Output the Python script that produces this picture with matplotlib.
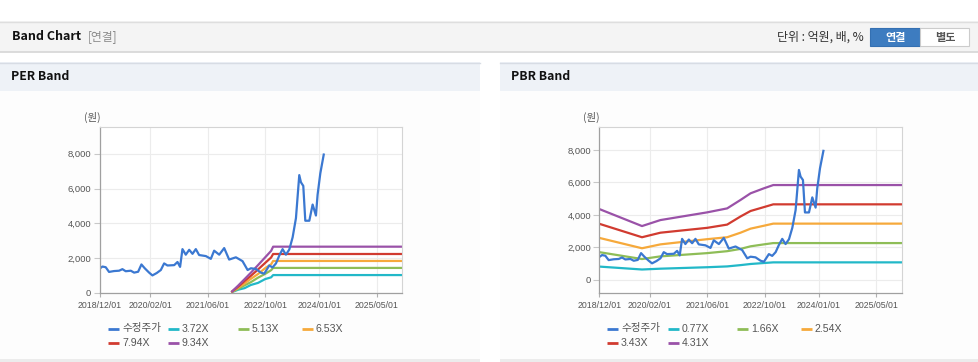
import matplotlib.pyplot as plt
import matplotlib.ticker as ticker
from matplotlib.patches import Rectangle
import pandas as pd

W, H = 979, 362

# adjusted close (수정주가), shared by both charts
price_dates = [
    '2018-12-01', '2018-12-24', '2019-01-21', '2019-02-18', '2019-04-01', '2019-05-14',
    '2019-06-11', '2019-07-09', '2019-08-21', '2019-09-18', '2019-10-22', '2019-11-19',
    '2019-12-17', '2020-01-23', '2020-02-20', '2020-03-28', '2020-05-01', '2020-05-29',
    '2020-06-26', '2020-08-22', '2020-09-19', '2020-10-11', '2020-10-31', '2020-11-28',
    '2020-12-27', '2021-01-24', '2021-02-21', '2021-03-21', '2021-05-17', '2021-06-28',
    '2021-07-26', '2021-09-07', '2021-10-19', '2021-11-30', '2022-01-26', '2022-03-23',
    '2022-05-05', '2022-06-02', '2022-07-14', '2022-08-26', '2022-09-23', '2022-11-04',
    '2022-12-02', '2022-12-31', '2023-01-28', '2023-02-25', '2023-03-25', '2023-04-23',
    '2023-05-21', '2023-06-18', '2023-07-16', '2023-07-30', '2023-08-19', '2023-09-05',
    '2023-10-09', '2023-11-06', '2023-12-04', '2023-12-18', '2024-01-10', '2024-02-08',
]
price_vals = [
    1400, 1520, 1480, 1210, 1260, 1280,
    1370, 1250, 1280, 1170, 1220, 1640,
    1420, 1170, 1010, 1150, 1320, 1700,
    1580, 1600, 1780, 1500, 2520, 2200,
    2480, 2250, 2520, 2180, 2120, 1960,
    2430, 2200, 2580, 1920, 2050, 1830,
    1320, 1420, 1380, 1170, 1110, 1580,
    1470, 1700, 2150, 2520, 2200, 2500,
    3200, 4300, 6770, 6360, 6150, 4150,
    4150, 5080, 4450, 5640, 6870, 7950,
]

# PER band (EPS x multiple)
per_band_dates = ['2021-12-26', '2022-02-15', '2022-04-10', '2022-06-01', '2022-08-01',
                  '2022-10-01', '2022-11-20', '2022-12-07', '2025-12-01']
per_labels = ['3.72X', '5.13X', '6.53X', '7.94X', '9.34X']
per_372 = [60, 190, 280, 460, 580, 800, 900, 1030, 1030]
per_513 = [70, 240, 440, 620, 880, 1100, 1310, 1440, 1440]
per_653 = [80, 310, 550, 810, 1090, 1430, 1650, 1840, 1840]
per_794 = [90, 370, 690, 980, 1350, 1730, 2040, 2240, 2240]
per_934 = [100, 430, 800, 1160, 1600, 2050, 2420, 2660, 2660]

# PBR band (BPS x multiple)
pbr_band_dates = ['2018-12-01', '2019-11-27', '2020-05-01', '2021-05-31', '2021-11-16',
                  '2022-03-09', '2022-06-02', '2022-09-23', '2022-12-11', '2025-12-01']
pbr_labels = ['0.77X', '1.66X', '2.54X', '3.43X', '4.31X']
pbr_077 = [810, 630, 680, 770, 820, 900, 970, 1030, 1070, 1070]
pbr_166 = [1700, 1275, 1440, 1640, 1760, 1900, 2060, 2180, 2260, 2260]
pbr_254 = [2580, 1940, 2180, 2500, 2620, 2900, 3150, 3330, 3460, 3460]
pbr_343 = [3450, 2620, 2900, 3200, 3400, 3900, 4240, 4480, 4650, 4650]
pbr_431 = [4360, 3310, 3680, 4155, 4400, 4920, 5330, 5640, 5840, 5840]

xtick_dates = ['2018-12-01', '2020-02-01', '2021-06-01', '2022-10-01', '2024-01-01', '2025-05-01']
xtick_labels = ['2018/12/01', '2020/02/01', '2021/06/01', '2022/10/01', '2024/01/01', '2025/05/01']
ytick_vals = [0, 2000, 4000, 6000, 8000]

price_color = '#3b78d1'
band_colors = ['#22b8c8', '#8ebd57', '#f6a93b', '#d13b30', '#9a52a8']
KR = ['Noto Sans CJK KR', 'DejaVu Sans']
NUM = ['Liberation Sans', 'DejaVu Sans']


def rect(x0, y0, x1, y1):
    return [x0 / W, 1 - y1 / H, (x1 - x0) / W, (y1 - y0) / H]


fig = plt.figure(figsize=(W / 100, H / 100), dpi=100)
fig.patch.set_facecolor('white')

# background layer in pixel coordinates
bg = fig.add_axes([0, 0, 1, 1])
bg.set_xlim(0, W)
bg.set_ylim(H, 0)
bg.axis('off')

# top header strip
bg.add_patch(Rectangle((0, 21), W, 31, facecolor='#f4f4f4', edgecolor='none'))
bg.plot([0, W], [21.5, 21.5], color='#dedede', lw=1)
bg.plot([0, W], [52, 52], color='#d6d6d6', lw=1.2)
bg.text(12, 37, 'Band Chart', fontsize=9, fontweight='bold', family=KR, color='#111', va='center')
bg.text(88, 37, '[연결]', fontsize=8.5, family=KR, color='#8a8a8a', va='center')
bg.text(864, 37, '단위 : 억원, 배, %', fontsize=8.6, family=KR, color='#333', va='center', ha='right')
bg.add_patch(Rectangle((870.5, 27.5), 50, 18.5, facecolor='#3d7cc0', edgecolor='#3470b2', lw=0.8))
bg.text(895.5, 37, '연결', fontsize=8, fontweight='bold', family=KR, color='white', va='center', ha='center')
bg.add_patch(Rectangle((920.5, 27.5), 48.5, 18.5, facecolor='white', edgecolor='#cccccc', lw=0.8))
bg.text(945, 37, '별도', fontsize=8, fontweight='bold', family=KR, color='#555', va='center', ha='center')

# panel frames
for x0, x1, title in [(0, 480, 'PER Band'), (500, 979, 'PBR Band')]:
    bg.add_patch(Rectangle((x0, 62), x1 - x0, 29, facecolor='#eef2f7', edgecolor='none'))
    bg.plot([x0, x1], [62.5, 62.5], color='#d7dce4', lw=1)
    bg.add_patch(Rectangle((x0, 91), x1 - x0, 268, facecolor='#fdfdfd', edgecolor='none'))
    bg.add_patch(Rectangle((x0, 359), x1 - x0, 3, facecolor='#ececec', edgecolor='none'))
    bg.text(x0 + 11, 77, title, fontsize=8.8, fontweight='bold', family=KR, color='#111', va='center')

price_x = pd.to_datetime(price_dates)
xmin, xmax = pd.Timestamp('2018-12-01'), pd.Timestamp('2025-12-01')


def style_axes(ax, ymin, ymax, unit_x):
    ax.set_facecolor('white')
    ax.set_xlim(xmin, xmax)
    ax.set_ylim(ymin, ymax)
    ax.set_xticks(pd.to_datetime(xtick_dates))
    ax.set_xticklabels(xtick_labels)
    ax.set_yticks(ytick_vals)
    ax.yaxis.set_major_formatter(ticker.FuncFormatter(lambda v, p: f'{v:,.0f}'))
    ax.grid(True, color='#ececec', lw=0.8)
    ax.set_axisbelow(True)
    for side in ['left', 'bottom']:
        ax.spines[side].set_color('#a0a0a0')
        ax.spines[side].set_linewidth(0.9)
    for side in ['top', 'right']:
        ax.spines[side].set_color('#d4d4d4')
        ax.spines[side].set_linewidth(0.8)
    ax.tick_params(axis='y', length=4.5, width=0.8, color='#c8c8c8', pad=1.5, labelsize=6.8, labelcolor='#555')
    ax.tick_params(axis='x', length=3, width=0.8, color='#b0b0b0', pad=3, labelsize=6.3, labelcolor='#555')
    for lab in ax.get_xticklabels() + ax.get_yticklabels():
        lab.set_family(NUM)
    bg.text(unit_x, 117, '(원)', fontsize=7.5, family=KR, color='#555', va='center')


def legend(x_first, x_second, cols, labels, y1=328.5, y2=342.5):
    entries = ['수정주가'] + labels
    colors = [price_color] + band_colors
    spots = [(cols[0], y1), (cols[1], y1), (cols[2], y1), (cols[3], y1), (x_first, y2), (x_second, y2)]
    for (lx, ly), lab, col in zip(spots, entries, colors):
        bg.plot([lx, lx + 11], [ly, ly], color=col, lw=2, solid_capstyle='butt')
        bg.text(lx + 14, ly, lab, fontsize=7.6, family=KR if lab == '수정주가' else NUM,
                color='#555', va='center')


# PER chart
ax1 = fig.add_axes(rect(99.7, 126.7, 402, 293))
per_x = pd.to_datetime(per_band_dates)
for vals, col in zip([per_372, per_513, per_653, per_794, per_934], band_colors):
    ax1.plot(per_x, vals, color=col, lw=1.6)
ax1.plot(price_x, price_vals, color=price_color, lw=1.6)
style_axes(ax1, 0, 9550, 84)
legend(108, 168, [108, 168, 238, 302], per_labels)

# PBR chart
ax2 = fig.add_axes(rect(599.3, 126.7, 901.7, 293))
pbr_x = pd.to_datetime(pbr_band_dates)
for vals, col in zip([pbr_077, pbr_166, pbr_254, pbr_343, pbr_431], band_colors):
    ax2.plot(pbr_x, vals, color=col, lw=1.6)
ax2.plot(price_x, price_vals, color=price_color, lw=1.6)
style_axes(ax2, -820, 9440, 583)
legend(607, 668, [607, 668, 737, 801], pbr_labels)

fig.savefig('out.png', dpi=100)
